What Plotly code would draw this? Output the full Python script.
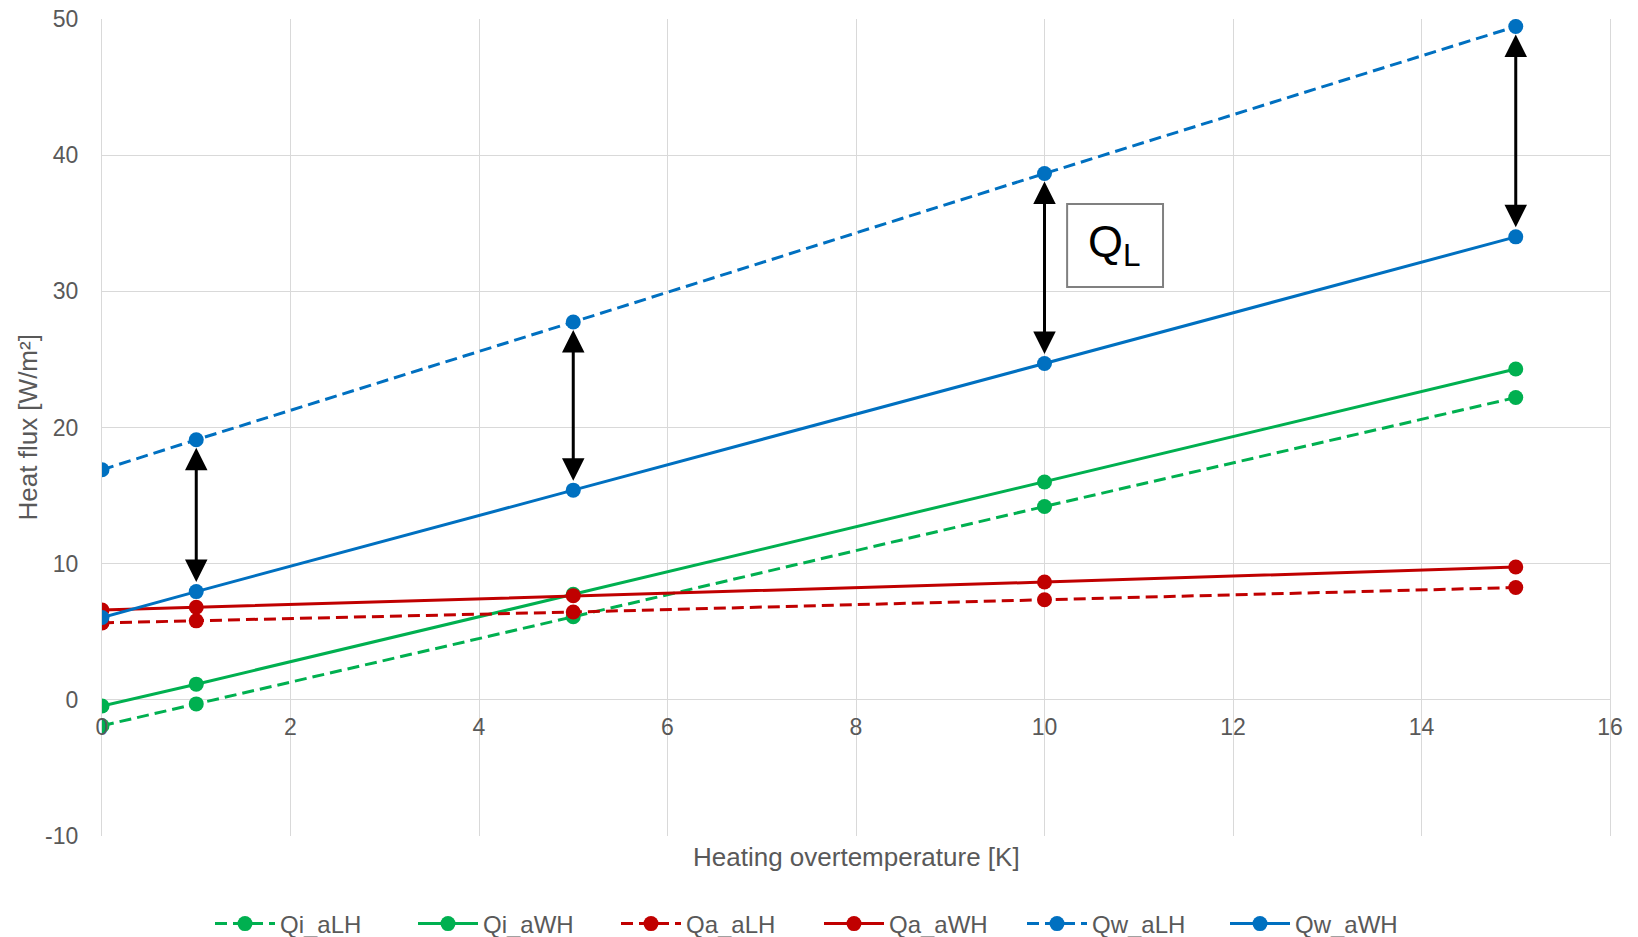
import plotly.graph_objects as go

# ---- data ----
x_vals = [0, 1, 5, 10, 15]
qi_alh = [-1.9, -0.3, 6.1, 14.2, 22.2]
qi_awh = [-0.45, 1.15, 7.75, 16.0, 24.3]
qa_alh = [5.65, 5.8, 6.45, 7.35, 8.25]
qa_awh = [6.6, 6.8, 7.65, 8.65, 9.75]
qw_alh = [16.9, 19.1, 27.75, 38.65, 49.45]
qw_awh = [6.05, 7.95, 15.4, 24.7, 34.0]

series_names = ["Qi_aLH", "Qi_aWH", "Qa_aLH", "Qa_aWH", "Qw_aLH", "Qw_aWH"]
series_vals = [qi_alh, qi_awh, qa_alh, qa_awh, qw_alh, qw_awh]
series_colors = ["#00B050", "#00B050", "#C00000", "#C00000", "#0070C0", "#0070C0"]
series_dash = ["12px,6px", "solid", "12px,6px", "solid", "12px,6px", "solid"]

x_ticks = [0, 2, 4, 6, 8, 10, 12, 14, 16]
y_ticks = [-10, 0, 10, 20, 30, 40, 50]
y_ticktext = ["-10", "0", "10", "20", "30", "40", "50"]
arrow_idx = [1, 2, 3, 4]  # x positions (indices) with Q_L arrows

FONT = "Liberation Sans, Arial, sans-serif"
GRAY = "#595959"
GRID = "#D9D9D9"

fig = go.Figure()
for name, vals, col, dash in zip(series_names, series_vals, series_colors, series_dash):
    fig.add_trace(go.Scatter(
        x=x_vals, y=vals, name=name, mode="lines+markers",
        line=dict(color=col, width=3, dash=dash),
        marker=dict(color=col, size=15, symbol="circle"),
    ))

annotations = []
for i in arrow_idx:
    annotations.append(dict(
        x=x_vals[i], y=qw_alh[i], ax=x_vals[i], ay=qw_awh[i],
        xref="x", yref="y", axref="x", ayref="y",
        text="", showarrow=True, arrowside="end+start",
        arrowhead=2, startarrowhead=2, arrowsize=1.5, startarrowsize=1.5,
        arrowwidth=3, arrowcolor="black", standoff=8, startstandoff=8,
    ))

# Q_L label
annotations.append(dict(
    x=0.6717, y=0.7234, xref="paper", yref="paper", xanchor="center", yanchor="middle",
    text="Q<sub>L</sub>", showarrow=False,
    font=dict(family=FONT, size=45, color="black"),
))
# axis titles
annotations.append(dict(
    x=0.5, y=-0.0257, xref="paper", yref="paper", xanchor="center", yanchor="middle",
    text="Heating overtemperature [K]", showarrow=False,
    font=dict(family=FONT, size=26, color=GRAY),
))
annotations.append(dict(
    x=-0.0491, y=0.5, xref="paper", yref="paper", xanchor="center", yanchor="middle",
    text="Heat flux [W/m²]", textangle=-90, showarrow=False,
    font=dict(family=FONT, size=26, color=GRAY),
))

fig.update_layout(
    width=1638, height=937,
    margin=dict(l=102, r=28, t=19, b=101, autoexpand=False),
    paper_bgcolor="white", plot_bgcolor="white",
    font=dict(family=FONT, color=GRAY),
    xaxis=dict(
        range=[0, 16], tickvals=x_ticks, showgrid=True, gridcolor=GRID, gridwidth=1.3,
        zeroline=False, showline=False, ticks="", anchor="free", position=1/6,
        tickfont=dict(family=FONT, size=23, color=GRAY), ticklabelstandoff=11,
        automargin=False,
    ),
    yaxis=dict(
        range=[-10, 50], tickvals=y_ticks, ticktext=y_ticktext,
        showgrid=True, gridcolor=GRID, gridwidth=1.3,
        zeroline=True, zerolinecolor=GRID, zerolinewidth=1.3,
        showline=True, mirror=True, linecolor=GRID, linewidth=1.3, ticks="",
        tickfont=dict(family=FONT, size=23, color=GRAY), ticklabelstandoff=18,
        automargin=False,
    ),
    legend=dict(
        orientation="h", xref="container", yref="container",
        x=0.5, xanchor="center", y=0.0139, yanchor="middle",
        font=dict(family=FONT, size=24, color=GRAY),
        itemwidth=60, entrywidth=128, entrywidthmode="pixels",
        bgcolor="rgba(0,0,0,0)",
    ),
    annotations=annotations,
    shapes=[dict(
        type="rect", xref="paper", yref="paper",
        x0=0.640, x1=0.7036, y0=0.672, y1=0.7736,
        line=dict(color="#808080", width=2), fillcolor="white", layer="above",
    )],
)

fig.write_html("out.html")
